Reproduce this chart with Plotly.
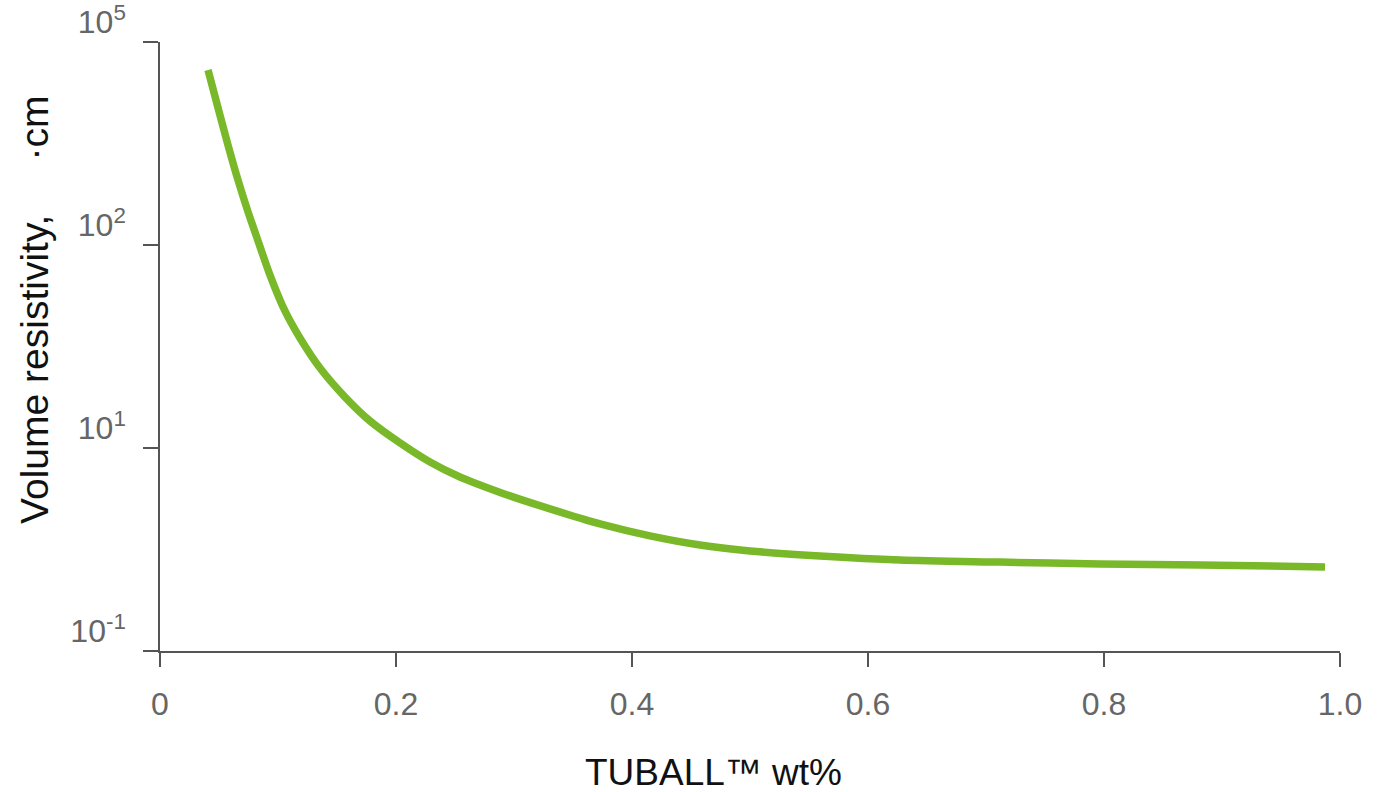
import plotly.graph_objects as go

# Data (y in tick-index units: 0 -> 10^-1, 1 -> 10^1, 2 -> 10^2, 3 -> 10^5)
wt_pct = [0.0407, 0.0492, 0.0576, 0.0661, 0.0746, 0.0831, 0.0932, 0.1059, 0.1186,
          0.1356, 0.1568, 0.1780, 0.2034, 0.2288, 0.2542, 0.2712, 0.2966, 0.3305,
          0.3729, 0.4153, 0.4576, 0.5000, 0.5593, 0.6271, 0.7119, 0.7966, 0.8814,
          0.9873]
resistivity_pos = [2.862, 2.675, 2.493, 2.320, 2.163, 2.020, 1.852, 1.675, 1.542,
                   1.394, 1.251, 1.133, 1.025, 0.931, 0.857, 0.818, 0.764, 0.700,
                   0.626, 0.567, 0.522, 0.493, 0.468, 0.448, 0.438, 0.429, 0.424,
                   0.414]

x_tickvals = [0, 0.2, 0.4, 0.6, 0.8, 1.0]
x_ticktext = ["0", "0.2", "0.4", "0.6", "0.8", "1.0"]
y_tickvals = [0, 1, 2, 3]
y_ticktext = ["10<sup>-1</sup>", "10<sup>1</sup>", "10<sup>2</sup>", "10<sup>5</sup>"]

AXIS = "#555555"
FONT = "Liberation Sans, Arial, sans-serif"
TICKFONT = dict(family=FONT, size=32, color="#666666")

fig = go.Figure()
fig.add_trace(go.Scatter(
    x=wt_pct, y=resistivity_pos, mode="lines",
    line=dict(color="#79b829", width=7.5, shape="spline", smoothing=0.8),
    hoverinfo="skip", showlegend=False,
))

fig.update_layout(
    width=1378, height=792,
    margin=dict(l=160, r=38, t=42, b=141, autoexpand=False),
    paper_bgcolor="white", plot_bgcolor="white",
    font=dict(family=FONT, size=32, color="#666666"),
    xaxis=dict(
        range=[0, 1], tickvals=x_tickvals, ticktext=x_ticktext, automargin=False,
        showgrid=False, zeroline=False, showline=True, linecolor=AXIS, linewidth=1.5,
        ticks="outside", ticklen=14, tickcolor=AXIS, tickwidth=1.5,
        ticklabelstandoff=10, tickfont=TICKFONT,
    ),
    yaxis=dict(
        range=[0, 3], tickvals=y_tickvals, ticktext=y_ticktext, automargin=False,
        showgrid=False, zeroline=False, showline=True, linecolor=AXIS, linewidth=1.5,
        ticks="outside", ticklen=15, tickcolor=AXIS, tickwidth=1.5,
        ticklabelshift=-20, ticklabelstandoff=11, ticklabeloverflow="allow",
        tickfont=TICKFONT,
    ),
    annotations=[
        dict(text="TUBALL™ wt%", xref="paper", yref="paper", x=0.469, y=-0.2,
             xanchor="center", yanchor="middle", showarrow=False,
             font=dict(family=FONT, size=37, color="#111111")),
        dict(text="Volume resistivity,\u00a0\u00a0\u00a0\u00a0\u00a0·cm", xref="paper", yref="paper",
             x=-0.106, y=0.56, xanchor="center", yanchor="middle", textangle=-90,
             showarrow=False, font=dict(family=FONT, size=39, color="#111111")),
    ],
    shapes=[
        dict(type="line", xref="paper", yref="paper", x0=-0.0127, x1=0, y0=0, y1=0,
             line=dict(color=AXIS, width=1.5)),
        dict(type="line", xref="paper", yref="paper", x0=0, x1=0, y0=-0.0246, y1=0,
             line=dict(color=AXIS, width=1.5)),
    ],
)

fig.write_html("out.html")
